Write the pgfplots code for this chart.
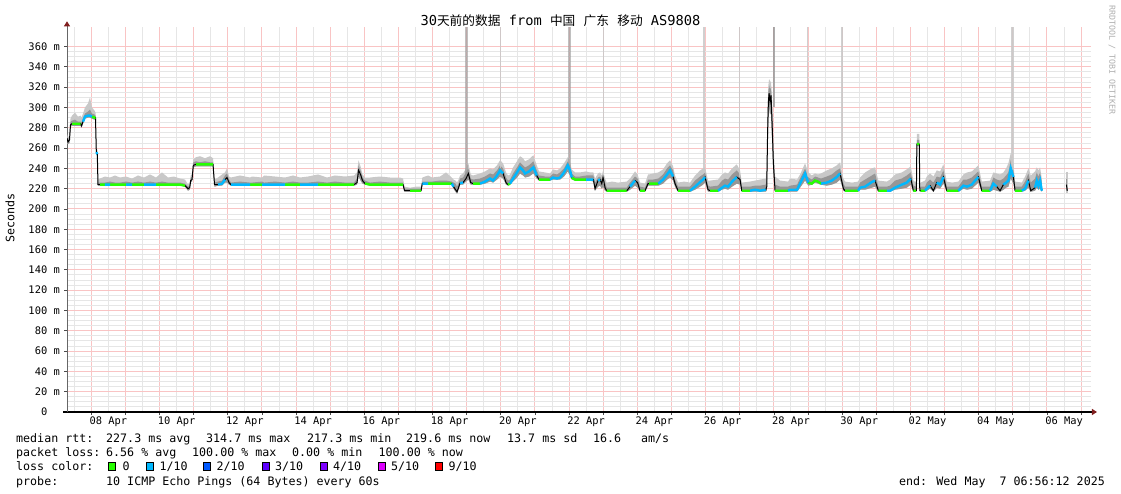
\documentclass[border=0pt]{standalone}
\usepackage{pgfplots}
\pgfplotsset{compat=1.18}
\usepackage{pgfplotstable}
\usepgfplotslibrary{fillbetween}
\usetikzlibrary{arrows.meta}
\usepackage{fontspec}
\setmainfont{DejaVu Sans Mono}
\newfontfamily\cjkfont{Noto Sans CJK SC}
\newcommand\ticksize{\fontsize{10.4bp}{12bp}\selectfont}
\newcommand\legfont{\fontsize{11.65bp}{13bp}\selectfont}
\definecolor{lossA}{HTML}{26FF00}
\definecolor{lossB}{HTML}{00B8FF}
\definecolor{lossC}{HTML}{0059FF}
\definecolor{lossD}{HTML}{5E00FF}
\definecolor{lossE}{HTML}{7E00FF}
\definecolor{lossF}{HTML}{DD00FF}
\definecolor{lossG}{HTML}{FF0000}
\definecolor{majgrid}{RGB}{249,196,196}
\definecolor{mingrid}{RGB}{230,230,230}
\definecolor{smokeL}{RGB}{200,200,200}
\definecolor{smokeD}{RGB}{150,150,150}
\definecolor{arrowred}{RGB}{128,30,30}

\pgfplotstableread{
d      med   lo   dk   lt   g     c
7.289  270   265  272  274  nan   nan
7.318  266   264  268  270  nan   nan
7.362  268   265  271  273  nan   nan
7.392  283   281  286  289  nan   nan
7.436  284   282  287  292  284   nan
7.523  284   282  288  295  284   nan
7.611  284   282  286  291  284   nan
7.685  284   282  286  292  284   nan
7.714  282   280  285  290  nan   nan
7.758  286   284  289  294  nan   286
7.816  291   289  294  300  nan   291
7.904  292   290  296  304  nan   292
7.963  292   290  298  310  nan   292
8.022  291   289  294  300  291   291
8.095  290   288  293  297  290   nan
8.124  290   288  292  295  290   nan
8.148  256   254  258  260  nan   256
8.177  254   252  256  258  nan   254
8.197  224   223  226  229  nan   nan
8.256  224   223  226  230  224   nan
8.402  224   223  226  232  224   224
8.549  224   223  227  231  224   224
8.695  224   223  226  233  224   nan
8.842  224   223  226  231  224   nan
9.018  224   223  227  232  224   224
9.194  224   223  226  230  224   224
9.369  224   223  227  233  224   nan
9.545  224   223  226  231  224   224
9.721  224   223  227  234  nan   224
9.897  224   223  226  231  224   224
10.073 224   223  227  236  224   nan
10.248 224   223  226  231  224   nan
10.424 224   223  226  232  224   nan
10.600 224   223  226  230  224   nan
10.746 223   222  225  229  223   nan
10.834 220   218  222  224  nan   nan
10.884 221   219  223  226  nan   nan
10.913 228   226  230  233  nan   nan
10.952 229   227  231  234  nan   nan
10.990 243   241  246  249  nan   nan
11.069 244   242  247  251  244   nan
11.186 244   242  246  252  244   nan
11.332 244   242  247  250  244   nan
11.479 244   242  246  252  244   nan
11.567 244   242  246  250  244   nan
11.611 224   222  226  229  nan   nan
11.713 224   223  227  231  nan   224
11.831 225   223  228  234  nan   225
11.918 229   226  233  236  nan   229
11.977 231   226  235  240  nan   nan
12.036 226   224  229  232  nan   nan
12.094 224   223  226  231  nan   224
12.358 224   223  227  233  nan   224
12.651 224   223  226  231  224   224
12.710 224   223  226  232  224   nan
13.003 224   223  227  231  224   224
13.061 224   223  226  233  nan   224
13.383 224   223  227  232  nan   224
13.676 224   223  226  231  224   224
13.911 224   223  227  233  224   nan
14.116 224   223  226  231  224   224
14.350 224   223  226  232  nan   224
14.643 224   223  227  234  224   224
14.907 224   223  226  231  224   nan
15.141 224   223  227  233  224   nan
15.434 224   223  226  232  224   nan
15.698 224   223  226  233  224   nan
15.786 226   224  230  236  nan   nan
15.830 238   232  243  248  nan   nan
15.889 234   228  238  242  nan   234
15.947 228   225  231  234  nan   nan
16.020 225   224  228  231  225   225
16.167 224   223  226  231  224   nan
16.460 224   223  227  232  224   nan
16.753 224   223  226  231  224   nan
17.046 224   223  226  231  224   nan
17.134 224   223  226  230  224   nan
17.178 218   217  220  222  nan   nan
17.339 218   217  220  221  218   nan
17.515 218   217  220  222  218   nan
17.661 218   217  220  222  218   nan
17.699 225   224  227  231  nan   225
17.866 225   224  227  233  225   225
17.984 225   224  227  231  225   nan
18.218 225   224  228  232  225   nan
18.394 225   224  228  236  225   nan
18.561 225   224  227  231  225   225
18.613 222   220  226  229  nan   222
18.672 219   217  225  228  nan   nan
18.716 217   215  222  226  nan   nan
18.760 221   219  225  229  nan   nan
18.804 225.5 224  230  233  nan   225.5
18.892 226   224  231  235  nan   226
18.980 230   227  236  240  nan   nan
19.047 235   229  240  245  nan   235
19.117 226   224  230  234  nan   nan
19.185 225   224  229  233  225   nan
19.390 225   224  230  235  225   225
19.536 227   225  232  237  nan   227
19.683 230   227  235  240  nan   230
19.771 228   226  234  239  nan   228
19.888 233   229  238  243  nan   233
19.976 238   232  243  248  nan   238
20.064 235   230  240  245  nan   235
20.152 226   224  231  236  nan   nan
20.210 224   223  228  233  224   nan
20.269 225   224  229  234  225   225
20.357 230   227  235  241  nan   230
20.474 236   231  241  247  nan   236
20.562 241   235  246  252  nan   241
20.650 238   233  243  250  nan   238
20.708 235   231  241  247  nan   235
20.826 237   232  243  249  nan   237
20.952 241   235  247  253  nan   241
21.051 233   230  238  243  nan   233
21.119 229   228  233  237  229   nan
21.294 229   228  232  236  229   nan
21.441 229   228  232  235  229   229
21.529 231   229  235  239  nan   231
21.646 230   229  234  238  nan   230
21.734 231   229  236  240  nan   231
21.851 236   232  240  245  nan   236
21.960 243   237  247  251  nan   243
22.027 238   233  242  246  nan   238
22.077 231   229  235  239  231   231
22.173 229   228  232  236  229   nan
22.320 229   228  232  236  229   nan
22.496 229   228  233  237  229   229
22.613 229   228  233  236  nan   229
22.710 229   227  233  236  nan   229
22.759 220   218  226  230  nan   nan
22.847 228   222  231  235  nan   228
22.906 229   223  232  236  nan   229
22.956 225   220  229  233  nan   nan
22.994 231   222  234  238  nan   231
23.052 221   218  226  230  nan   nan
23.102 218   217  221  226  218   nan
23.258 218   217  221  227  218   nan
23.433 218   217  221  226  218   nan
23.688 218   217  221  227  218   nan
23.785 222   219  226  230  nan   222
23.931 228   223  232  237  nan   228
24.005 226   221  230  234  nan   nan
24.078 218   217  222  226  218   nan
24.224 218   217  221  225  218   nan
24.312 225   223  229  234  nan   nan
24.341 225   223  229  234  225   nan
24.459 225   223  229  235  225   nan
24.614 225   223  230  236  225   225
24.752 229   225  234  239  nan   229
24.869 234   229  240  245  nan   234
24.957 238   231  243  248  nan   238
25.045 232   228  238  242  nan   232
25.103 225   222  229  233  nan   nan
25.191 218   217  222  226  218   nan
25.367 218   217  222  227  218   nan
25.543 218   217  222  226  218   218
25.689 222   219  228  233  nan   222
25.836 226.5 222  232  238  nan   226.5
25.924 229   224  234  240  nan   229
25.982 231.5 226  236  241  nan   231.5
26.070 219   217  223  228  nan   nan
26.129 218   217  222  228  218   nan
26.363 218   217  223  229  218   218
26.481 221   219  228  234  nan   221
26.568 223   220  230  236  nan   223
26.656 222   219  229  235  nan   222
26.774 227   222  234  240  nan   227
26.911 231.5 225  238  244  nan   231.5
27.008 229   224  234  238  nan   nan
27.058 218   217  222  226  218   nan
27.301 218   217  222  227  218   218
27.447 219   217  223  228  nan   219
27.594 218   217  223  229  nan   218
27.761 219   217  224  230  nan   219
27.790 222   218  230  240  nan   nan
27.814 274   255  285  295  nan   nan
27.837 305   290  315  322  nan   nan
27.858 314   300  322  328  nan   nan
27.887 306   293  318  326  nan   nan
27.916 312   295  320  325  nan   nan
27.954 277   262  290  300  nan   nan
27.984 245   235  255  265  nan   nan
28.033 218   217  224  232  218   nan
28.180 218   217  222  228  218   nan
28.414 218   217  222  227  218   218
28.473 219   217  223  230  nan   219
28.678 219   217  224  229  nan   219
28.766 225   221  230  234  nan   225
28.912 235   228  240  245  nan   235
29.009 226   223  231  236  226   226
29.109 225   224  229  233  225   nan
29.205 228   226  232  235  228   nan
29.293 227   225  231  234  227   nan
29.381 225   224  230  235  225   225
29.548 226   223  232  238  nan   226
29.695 228   224  234  240  nan   228
29.841 231.5 226  238  243  nan   231.5
29.938 235   229  240  246  nan   235
30.035 220   218  225  230  nan   nan
30.084 218   217  222  227  218   nan
30.290 218   217  222  226  218   nan
30.465 218   217  222  227  218   218
30.524 221   219  226  231  nan   221
30.670 222   219  229  236  nan   222
30.867 226.5 221  233  240  nan   226.5
30.963 228   222  235  241  nan   228
31.060 218   217  222  228  218   nan
31.306 218   217  222  227  218   218
31.403 218   217  223  229  nan   218
31.549 221   219  228  234  nan   221
31.746 224   220  230  236  nan   224
31.892 226   221  233  239  nan   226
32.009 230   224  236  242  nan   230
32.086 218   217  223  228  218   nan
32.159 218   217  222  226  218   nan
32.174 218   217  222  226  nan   nan
32.188 264   262  268  274  264   nan
32.259 264   262  268  274  264   nan
32.273 218   217  222  226  nan   nan
32.297 218   217  222  226  218   nan
32.428 218   217  222  228  218   218
32.478 220   218  226  232  nan   220
32.575 223   220  229  235  nan   223
32.672 218   217  226  232  nan   nan
32.771 226   221  232  238  nan   226
32.868 224   220  231  237  nan   224
32.965 231.5 225  238  244  nan   231.5
33.064 218   217  222  227  218   nan
33.220 218   217  222  226  218   nan
33.404 218   217  222  227  218   218
33.551 223   220  229  234  nan   223
33.659 222   219  229  236  nan   222
33.797 224   220  231  237  nan   224
33.893 228   223  234  240  nan   228
33.990 231.5 226  237  243  nan   231.5
34.090 218   217  222  227  218   nan
34.333 218   217  222  228  218   218
34.430 225   219  231  236  nan   225
34.529 222   218  229  235  nan   222
34.626 218   217  228  234  nan   nan
34.723 224   219  230  236  nan   224
34.802 226   221  233  240  nan   226
34.869 228   222  236  245  nan   228
34.939 240   230  248  255  nan   240
35.016 231.5 225  238  245  nan   231.5
35.065 218   217  222  227  218   nan
35.262 218   217  222  226  218   218
35.358 220   218  227  232  nan   220
35.455 228   221  235  240  nan   228
35.525 218   217  226  233  nan   nan
35.651 221   218  230  237  nan   221
35.701 228   221  236  241  nan   228
35.748 223   219  232  238  nan   223
35.798 228   220  236  241  nan   228
35.848 218   217  225  230  nan   218
}\rtt

\begin{document}
\begin{tikzpicture}
\begin{axis}[
  at={(67bp,82bp)}, anchor=south west,
  scale only axis, width=1024bp, height=384.7bp,
  xmin=7.289, xmax=37.289, ymin=0, ymax=379,
  axis x line=bottom, axis y line=left,
  x axis line style={black, line width=1.4bp, -{Triangle[length=5bp,width=6bp,color=arrowred]}, shorten >=-6bp, shorten <=-4bp},
  y axis line style={black!60, line width=0.9bp, -{Triangle[length=5bp,width=6bp,color=arrowred]}, shorten >=-6bp},
  xtick={8,...,37}, xticklabels={},
  minor xtick={7.5,8.5,...,36.5},
  extra x ticks={8.5,10.5,...,36.5},
  extra x tick labels={08 Apr,10 Apr,12 Apr,14 Apr,16 Apr,18 Apr,20 Apr,22 Apr,24 Apr,26 Apr,28 Apr,30 Apr,02 May,04 May,06 May},
  extra x tick style={grid=none, major tick length=0pt},
  ytick={0,20,...,360},
  yticklabels={0\phantom{\ m},20 m,40 m,60 m,80 m,100 m,120 m,140 m,160 m,180 m,200 m,220 m,240 m,260 m,280 m,300 m,320 m,340 m,360 m},
  minor y tick num=3,
  grid=both,
  major grid style={draw=majgrid, line width=1bp, solid},
  minor grid style={draw=mingrid, line width=1bp, solid},
  tick align=outside, major tick length=3bp, minor tick length=0pt,
  major tick style={black!70, line width=0.8bp},
  minor tick style={draw=none},
  x tick label style={font=\ticksize, anchor=base, inner sep=0pt, yshift=-12.5bp},
  y tick label style={font=\ticksize, anchor=east, inner sep=0pt, xshift=-4bp},
]
\addplot[name path=lo, draw=none, forget plot] table[x=d, y=lo]{\rtt};
\addplot[name path=dk, draw=none, forget plot] table[x=d, y=dk]{\rtt};
\addplot[name path=lt, draw=none, forget plot] table[x=d, y=lt]{\rtt};
\addplot[fill=smokeL, draw=none, forget plot] fill between[of=lt and lo];
\addplot[fill=smokeD, draw=none, forget plot] fill between[of=dk and lo];
% smoke spikes that run off the top
\addplot[draw=smokeD, opacity=0.6, line width=3bp] coordinates {(19.0,232) (19.0,390)};
\addplot[draw=smokeL, opacity=0.85, line width=1bp] coordinates {(20.0,240) (20.0,390)};
\addplot[draw=smokeD, opacity=0.6, line width=3bp] coordinates {(22.0,240) (22.0,390)};
\addplot[draw=smokeL, opacity=0.85, line width=1.2bp] coordinates {(23.0,225) (23.0,390)};
\addplot[draw=smokeL, opacity=0.85, line width=2.5bp] coordinates {(25.95,235) (25.95,390)};
\addplot[draw=smokeL, opacity=0.85, line width=1.2bp] coordinates {(27.0,232) (27.0,390)};
\addplot[draw=smokeD, opacity=0.8, line width=1.5bp] coordinates {(28.0,300) (28.0,390)};
\addplot[draw=smokeL, opacity=0.85, line width=1bp] coordinates {(28.97,232) (28.97,390)};
\addplot[draw=smokeL, opacity=0.85, line width=1.5bp] coordinates {(30.0,240) (30.0,390)};
\addplot[draw=smokeL, opacity=0.85, line width=3bp] coordinates {(35.0,238) (35.0,390)};
% tail
\addplot[draw=smokeL, line width=1.5bp] coordinates {(36.583,216) (36.583,236)};
\addplot[draw=smokeD, line width=1bp] coordinates {(36.583,218) (36.583,230)};
% median
\addplot[black, line width=1bp] table[x=d, y=med]{\rtt};
\addplot[black, line width=1bp] coordinates {(36.568,224) (36.598,218)};
\addplot[lossA, line width=2.4bp, unbounded coords=jump] table[x=d, y=g]{\rtt};
\addplot[lossB, line width=2.4bp, unbounded coords=jump] table[x=d, y=c]{\rtt};
\end{axis}

% title
\node[anchor=base, inner sep=0pt, font=\fontsize{13.7bp}{15bp}\selectfont] at (560.5bp,468bp)
  {30{\cjkfont\fontsize{12.7bp}{14bp}\selectfont 天前的数据} from {\cjkfont\fontsize{12.7bp}{14bp}\selectfont 中国} {\cjkfont\fontsize{12.7bp}{14bp}\selectfont 广东} {\cjkfont\fontsize{12.7bp}{14bp}\selectfont 移动} AS9808};
% watermark
\node[rotate=-90, inner sep=0pt, text={rgb,255:red,175;green,175;blue,175}, font=\fontsize{8.3bp}{9bp}\selectfont] at (1112bp,434bp) {RRDTOOL / TOBI OETIKER};
% y label
\node[rotate=90, inner sep=0pt, font=\legfont] at (10bp,276bp) {Seconds};

% legend
\begin{scope}[every node/.style={anchor=base west, inner sep=0pt, font=\legfont}]
\node at (16bp,51.6bp) {median rtt:};
\node at (106bp,51.6bp) {227.3 ms avg};
\node at (206bp,51.6bp) {314.7 ms max};
\node at (307bp,51.6bp) {217.3 ms min};
\node at (406bp,51.6bp) {219.6 ms now};
\node at (507bp,51.6bp) {13.7 ms sd};
\node at (593bp,51.6bp) {16.6};
\node at (641bp,51.6bp) {am/s};
\node at (16bp,37.5bp) {packet loss:};
\node at (106bp,37.5bp) {6.56 \% avg};
\node at (192bp,37.5bp) {100.00 \% max};
\node at (292bp,37.5bp) {0.00 \% min};
\node at (378.5bp,37.5bp) {100.00 \% now};
\node at (16bp,23.2bp) {loss color:};
\node at (122.5bp,23.2bp) {0};
\node at (159.5bp,23.2bp) {1/10};
\node at (216.5bp,23.2bp) {2/10};
\node at (275bp,23.2bp) {3/10};
\node at (333bp,23.2bp) {4/10};
\node at (391bp,23.2bp) {5/10};
\node at (448.5bp,23.2bp) {9/10};
\node at (16bp,9bp) {probe:};
\node at (106bp,9bp) {10 ICMP Echo Pings (64 Bytes) every 60s};
\node[anchor=base east] at (1105bp,9bp) {end: Wed May\ \ 7 06:56:12 2025};
\end{scope}
\begin{scope}[line width=0.8bp]
\draw[fill=lossA] (107.9bp,23.4bp) rectangle (114.9bp,31.4bp);
\draw[fill=lossB] (146.4bp,23.4bp) rectangle (153.4bp,31.4bp);
\draw[fill=lossC] (203.6bp,23.4bp) rectangle (210.6bp,31.4bp);
\draw[fill=lossD] (262.5bp,23.4bp) rectangle (269.5bp,31.4bp);
\draw[fill=lossE] (320.4bp,23.4bp) rectangle (327.4bp,31.4bp);
\draw[fill=lossF] (377.9bp,23.4bp) rectangle (384.9bp,31.4bp);
\draw[fill=lossG] (435.7bp,23.4bp) rectangle (442.7bp,31.4bp);
\end{scope}
\pgfresetboundingbox
\path[use as bounding box] (0,0) rectangle (1121bp,494bp);
\end{tikzpicture}
\end{document}
